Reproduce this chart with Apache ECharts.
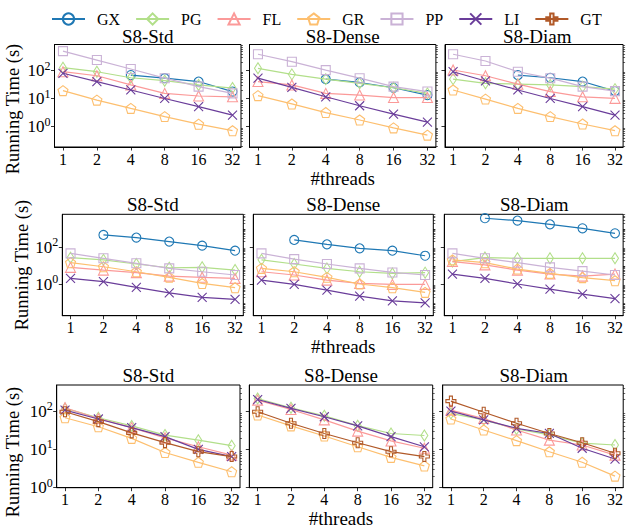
<!DOCTYPE html>
<html>
<head>
<meta charset="utf-8">
<script src="https://cdn.jsdelivr.net/npm/echarts@6/dist/echarts.min.js"></script>
<style>html,body{margin:0;padding:0;background:#fff}#c{width:626px;height:531px}</style>
</head>
<body>
<div id="c"></div>
<script>
// ---------- data ----------
const threads = [1, 2, 4, 8, 16, 32];
const seriesNames = ['GX', 'PG', 'FL', 'GR', 'PP', 'LI', 'GT'];
const panelTitles = ['S8-Std', 'S8-Dense', 'S8-Diam'];
const xLabel = '#threads';
const yLabel = 'Running Time (s)';
// y tick label exponents (10^n) per row
const row1YTicks = [0, 1, 2];
const row2YTicks = [0, 2];
const row3YTicks = [0, 1, 2];

// values per panel, in seriesNames order (null = series absent)
// row 1
const r1Std = [
  [null, null, 70, 54, 41, 18],
  [128, 92, 56, 44, 31, 24],
  [92, 66, 31, 15.5, 12.5, 11.7],
  [19.4, 8.9, 4.5, 2.3, 1.23, 0.72],
  [500, 240, 115, 54, 27, 15.5],
  [81, 41, 20.5, 10.2, 5.2, 2.6],
  null
];
const r1Dense = [
  [null, null, 50, 38, 24.6, 13.5],
  [122, 74, 50, 35.5, 24.6, 15.5],
  [41, 31, 15.5, 13.5, 11, 11],
  [12.9, 6.5, 3.2, 1.74, 0.91, 0.5],
  [387, 210, 105, 54, 27, 18],
  [54, 25.5, 11.7, 5.6, 2.8, 1.45],
  null
];
const r1Diam = [
  [null, null, 70, 56, 41, 18.7],
  [50, 35.5, 33, 31, 27, 22],
  [106, 66, 33, 18, 11.7, 10.3],
  [20.5, 9.7, 4.5, 2.3, 1.25, 0.72],
  [387, 222, 92, 54, 27, 18.7],
  [92, 43, 20.5, 10.2, 5.2, 2.6],
  null
];
// row 2
const r2Std = [
  [null, 466, 333, 203, 123, 66],
  [27.6, 21, 12.6, 7.9, 8.3, 5.9],
  [8.3, 5.9, 4.3, 2.8, 2.4, 2.1],
  [14.8, 8.9, 4.8, 2.4, 1.12, 0.66],
  [47, 25.5, 13.7, 7.3, 4.8, 3.2],
  [2.1, 1.4, 0.69, 0.35, 0.2, 0.155],
  null
];
const r2Dense = [
  [null, 250, 145, 88, 66, 35],
  [21, 12.6, 7.3, 4.8, 3.9, 4.3],
  [4.8, 3.2, 1.7, 1.12, 1.0, 1.0],
  [7.3, 4.8, 2.4, 1.05, 0.66, 0.37],
  [47, 23, 12.6, 7.3, 4.4, 3.2],
  [1.7, 1.0, 0.49, 0.23, 0.13, 0.10],
  null
];
const r2Diam = [
  [null, 3700, 2760, 1740, 1060, 570],
  [17, 28, 25.5, 25.5, 25.5, 25.5],
  [17, 11.2, 5.9, 3.6, 2.8, 3.6],
  [21, 14.8, 6.7, 3.9, 2.3, 1.58],
  [47, 25.5, 14.8, 8.3, 5.2, 3.2],
  [3.6, 2.1, 1.05, 0.56, 0.30, 0.17],
  null
];
// row 3
const r3Std = [
  null,
  [117, 67, 41, 23.6, 17.4, 12.5],
  [122, 64, 37, 20, 11.7, 7.1],
  [67, 39, 19.4, 8.3, 4.6, 2.6],
  null,
  [106, 62, 37, 21.5, 10, 6.5],
  [96, 53, 27, 15, 8.7, 6.5]
];
const r3Dense = [
  null,
  [213, 122, 75, 41.5, 26, 23],
  [193, 110, 59, 30, 16.6, 10.7],
  [79, 41, 22.4, 11.7, 6.2, 3.7],
  null,
  [200, 117, 71, 41, 21.5, 11.7],
  [96, 48, 26, 14.9, 8.7, 6.5]
];
const r3Diam = [
  null,
  [87, 59, 34, 24, 14.5, 13],
  [106, 64, 32, 17.4, 13, 7.1],
  [62, 32, 16.9, 8.7, 4.6, 2.0],
  null,
  [100, 59, 35.5, 26, 10.7, 5.6],
  [182, 93, 48, 26, 14.9, 7.9]
];

// ---------- style / layout ----------
const FONT = "'Liberation Serif', serif";
const colors = ['#1f78b4', '#b2df8a', '#fb9a99', '#fdbf6f', '#cab2d6', '#6a3d9a', '#b15928'];
const symbols = [
  'circle',
  'path://M0,-100L60,0L0,100L-60,0Z',
  'triangle',
  'path://M0,-100L95,-31L59,81L-59,81L-95,-31Z',
  'rect',
  'path://M-100,-100L100,100M-100,100L100,-100',
  'path://M-30,-100L30,-100L30,-30L100,-30L100,30L30,30L30,100L-30,100L-30,30L-100,30L-100,-30L-30,-30Z'
];
const symbolSizes = [9, [7, 11], 10, 10, 9, 9, 10];

const rows = [
  { data: [r1Std, r1Dense, r1Diam], ticks: row1YTicks, top: 44.5, height: 102.5,
    lefts: [54.5, 249.5, 445], widths: [186.5, 186.4, 184.5], yMin: -0.725, yMax: 2.936,
    titleY: 36.3, xLabelY: 178.8, yLabelPos: [13, 109] },
  { data: [r2Std, r2Dense, r2Diam], ticks: row2YTicks, top: 214.3, height: 101.4,
    lefts: [62.3, 253.3, 444.3], widths: [181, 180, 180], yMin: -1.69, yMax: 3.78,
    titleY: 204.5, xLabelY: 346.5, yLabelPos: [21.5, 265] },
  { data: [r3Std, r3Dense, r3Diam], ticks: row3YTicks, top: 385, height: 102.7,
    lefts: [56.7, 249.3, 442.7], widths: [183.3, 183.4, 182], yMin: 0, yMax: 2.68,
    titleY: 375.8, xLabelY: 518.5, yLabelPos: [13, 452] }
];

const option = {
  animation: false,
  backgroundColor: '#fff',
  legend: {
    left: 46, top: 6, itemWidth: 33, itemHeight: 14, itemGap: 15,
    data: seriesNames,
    textStyle: { fontFamily: FONT, fontSize: 16, color: '#000', padding: [0, 0, 0, 7] }
  },
  grid: [], xAxis: [], yAxis: [], series: [], graphic: []
};

const xTickVals = threads.map(t => Math.log2(t));

rows.forEach((row, r) => {
  const minorVals = [];
  for (let d = Math.floor(row.yMin) - 1; d <= Math.ceil(row.yMax); d++) {
    for (let k = 2; k <= 9; k++) {
      const v = d + Math.log10(k);
      if (v >= row.yMin && v <= row.yMax) minorVals.push(v);
    }
    if (row.ticks.indexOf(d) < 0 && d >= row.yMin && d <= row.yMax) minorVals.push(d);
  }
  for (let c = 0; c < 3; c++) {
    const idx = r * 3 + c;
    option.grid.push({
      left: row.lefts[c], top: row.top, width: row.widths[c], height: row.height,
      show: true, borderColor: '#000', borderWidth: 1, containLabel: false
    });
    option.xAxis.push({
      type: 'value', gridIndex: idx, min: -0.25, max: 5.25,
      axisLine: { show: true, onZero: false, lineStyle: { color: '#000', width: 1 } },
      axisTick: { show: true, length: 3.5, customValues: xTickVals, lineStyle: { color: '#000', width: 0.8 } },
      axisLabel: { customValues: xTickVals, margin: 4, color: '#000', fontFamily: FONT, fontSize: 16,
        lineHeight: 16, formatter: v => String(Math.round(Math.pow(2, v))) },
      splitLine: { show: false }
    });
    option.yAxis.push({
      type: 'value', gridIndex: idx, min: row.yMin, max: row.yMax,
      axisLine: { show: true, onZero: false, lineStyle: { color: '#000', width: 1 } },
      axisTick: { show: true, length: 3.5, customValues: row.ticks, lineStyle: { color: '#000', width: 0.8 } },
      axisLabel: {
        show: c === 0, customValues: row.ticks, margin: 4, color: '#000',
        formatter: v => '{b|10}{s|' + Math.round(v) + '}',
        rich: {
          b: { fontFamily: FONT, fontSize: 17, color: '#000' },
          s: { fontFamily: FONT, fontSize: 12, color: '#000', padding: [0, 0, 10, 0] }
        }
      },
      splitLine: { show: false }
    });
    option.yAxis.push({
      type: 'value', gridIndex: idx, min: row.yMin, max: row.yMax,
      axisLine: { show: false, onZero: false },
      axisTick: { show: true, length: 2, customValues: minorVals, lineStyle: { color: '#000', width: 0.6 } },
      axisLabel: { show: false },
      splitLine: { show: false }
    });
    const panel = row.data[c];
    seriesNames.forEach((name, s) => {
      const vals = panel[s];
      if (!vals) return;
      const pts = [];
      vals.forEach((v, i) => { if (v != null) pts.push([Math.log2(threads[i]), Math.log10(v)]); });
      option.series.push({
        type: 'line', name: name, xAxisIndex: idx, yAxisIndex: idx * 2,
        data: pts, symbol: symbols[s], symbolSize: symbolSizes[s],
        showAllSymbol: true, clip: false, z: 2 + s,
        lineStyle: { color: colors[s], width: 1.2 },
        itemStyle: { color: 'rgba(255,255,255,0)', borderColor: colors[s], borderWidth: 1.1 },
        emphasis: { disabled: true }
      });
    });
    option.graphic.push({
      type: 'text', x: row.lefts[c] + row.widths[c] / 2, y: row.titleY,
      style: { text: panelTitles[c], font: '19px ' + FONT, fill: '#000', align: 'center', verticalAlign: 'middle' }
    });
  }
  option.graphic.push({
    type: 'text', x: row.lefts[1] + row.widths[1] / 2, y: row.xLabelY,
    style: { text: xLabel, font: '19px ' + FONT, fill: '#000', align: 'center', verticalAlign: 'middle' }
  });
  option.graphic.push({
    type: 'text', x: row.yLabelPos[0], y: row.yLabelPos[1], rotation: Math.PI / 2,
    style: { text: yLabel, font: '18.5px ' + FONT, fill: '#000', align: 'center', verticalAlign: 'middle' }
  });
});

const chart = echarts.init(document.getElementById('c'), null, { renderer: 'svg' });
chart.setOption(option);
</script>
</body>
</html>
